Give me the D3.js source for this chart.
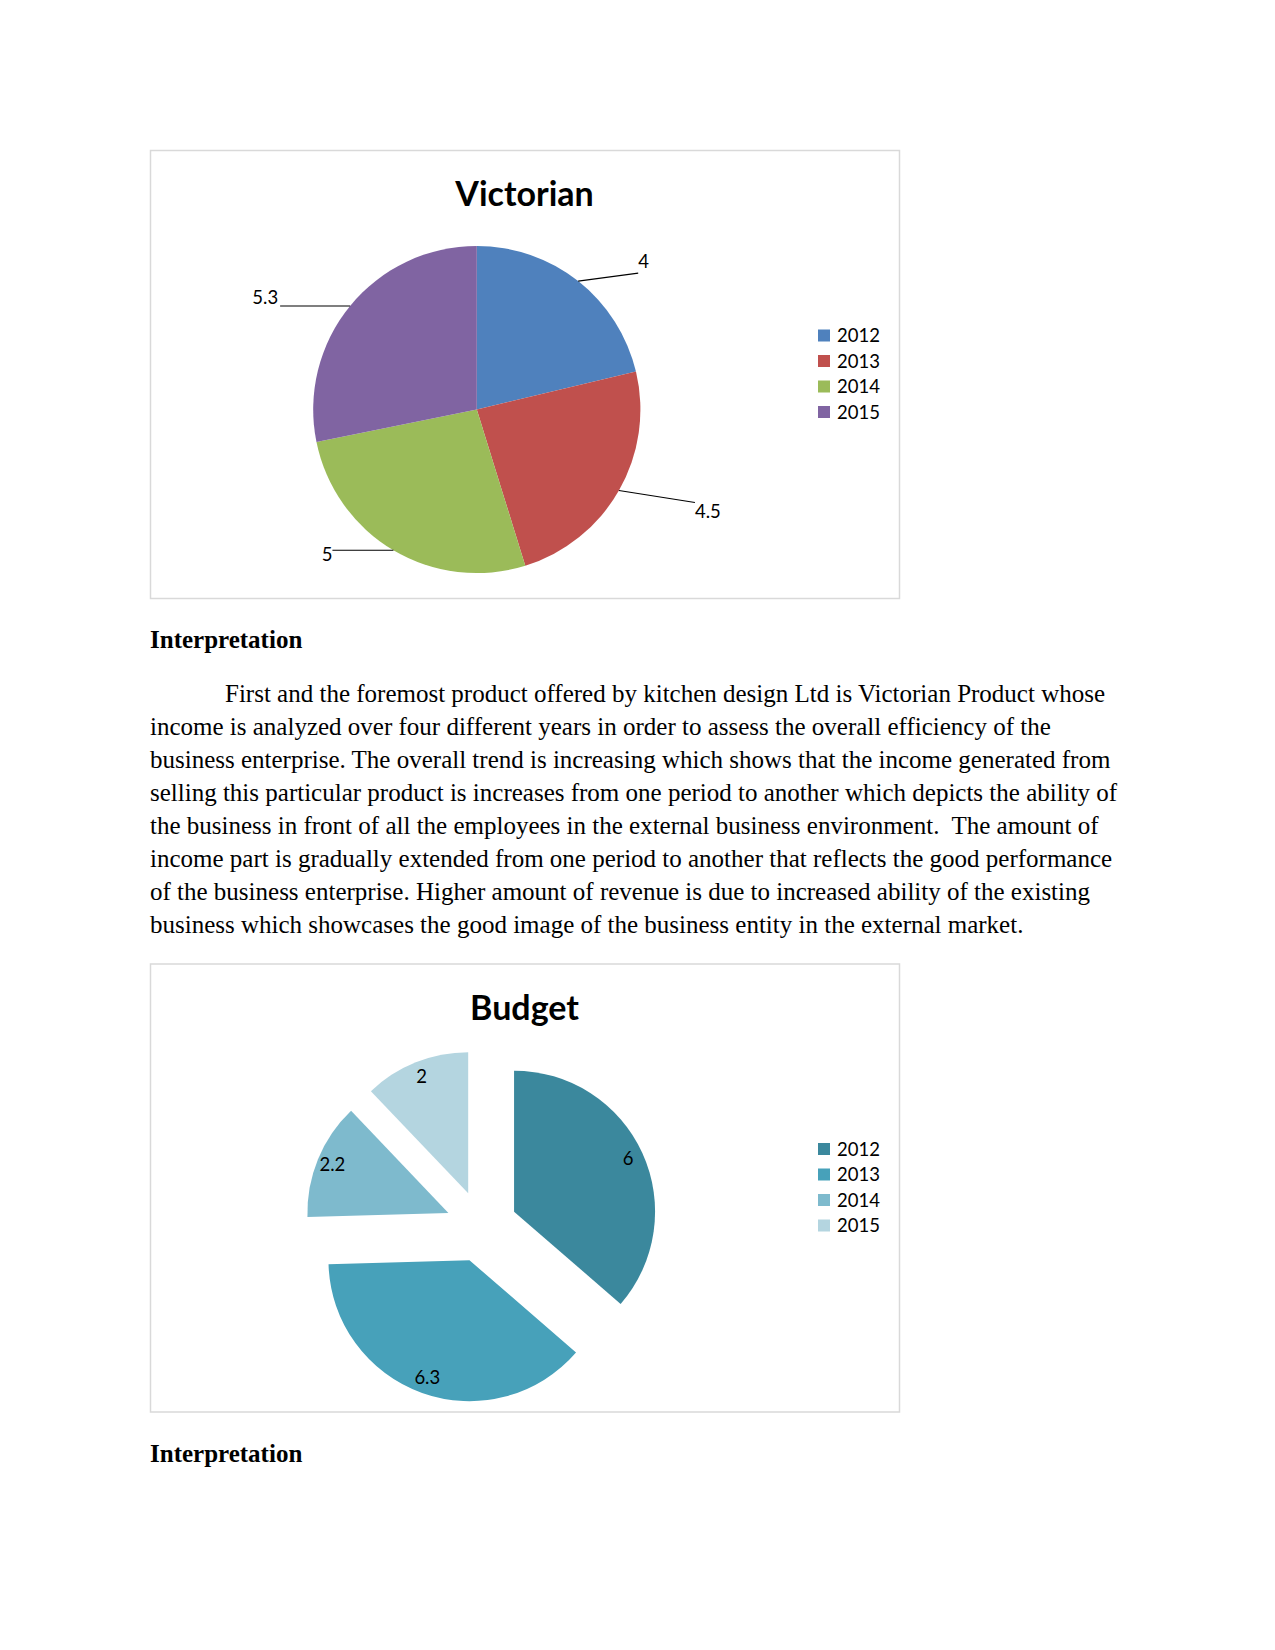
<!DOCTYPE html>
<html>
<head>
<meta charset="utf-8">
<script src="https://cdn.jsdelivr.net/npm/d3@7"></script>
<style>
  html, body { margin: 0; padding: 0; background: #fff; }
  svg text { white-space: pre; }
</style>
</head>
<body>
<svg id="page" width="1275" height="1650"></svg>
<script>
// ---------------- DATA ----------------
const years = ["2012", "2013", "2014", "2015"];
const victorianValues = [4, 4.5, 5, 5.3];
const budgetValues = [6, 6.3, 2.2, 2];
const victorianTitle = "Victorian";
const budgetTitle = "Budget";
const victorianColors = ["#4F81BD", "#C0504D", "#9BBB59", "#8064A2"];
const budgetColors = ["#3B889D", "#47A1BA", "#7EBACD", "#B4D5E0"];
const headingText = "Interpretation";
const paragraphLines = [
  "First and the foremost product offered by kitchen design Ltd is Victorian Product whose",
  "income is analyzed over four different years in order to assess the overall efficiency of the",
  "business enterprise. The overall trend is increasing which shows that the income generated from",
  "selling this particular product is increases from one period to another which depicts the ability of",
  "the business in front of all the employees in the external business environment.  The amount of",
  "income part is gradually extended from one period to another that reflects the good performance",
  "of the business enterprise. Higher amount of revenue is due to increased ability of the existing",
  "business which showcases the good image of the business entity in the external market."
];

// ---------------- LAYOUT ----------------
const svg = d3.select("#page");
svg.append("rect").attr("width", 1275).attr("height", 1650).attr("fill", "#fff");

const sansFont = "Lato, 'Open Sans', sans-serif";
const serifFont = "'Liberation Serif', 'Times New Roman', serif";

const box = { w: 749, h: 448 };
// leader line offsets (from slice edge) and label placement for Victorian
const victorianLeader = [
  { dx: 60, dy: -8, anchor: "start", tx: 0, ty: -5 },
  { dx: 76, dy: 12, anchor: "start", tx: 0, ty: 15 },
  { dx: -61, dy: 0, anchor: "end", tx: 0, ty: 11 },
  { dx: -70, dy: 0, anchor: "end", tx: -2, ty: -2 }
];

function chartFrame(x, y, title) {
  const g = svg.append("g").attr("transform", `translate(${x},${y})`);
  g.append("rect")
    .attr("x", 0.5).attr("y", 0.5)
    .attr("width", box.w).attr("height", box.h)
    .attr("fill", "#fff").attr("stroke", "#D9D9D9").attr("stroke-width", 1.5);
  g.append("text")
    .attr("x", box.w / 2).attr("y", 56)
    .attr("text-anchor", "middle")
    .attr("font-family", sansFont).attr("font-weight", 700)
    .attr("font-size", 34).attr("fill", "#000")
    .text(title);
  return g;
}

function legend(g, colors) {
  const lg = g.append("g").attr("transform", "translate(668,192)");
  years.forEach((yr, i) => {
    const y = i * 25.5;
    lg.append("rect")
      .attr("x", 0).attr("y", y - 12.5)
      .attr("width", 12).attr("height", 12)
      .attr("fill", colors[i]);
    lg.append("text")
      .attr("x", 19).attr("y", y)
      .attr("font-family", sansFont).attr("font-size", 18.5)
      .attr("fill", "#000")
      .text(yr);
  });
}

const pie = d3.pie().sort(null).value(d => d);

// ---------------- VICTORIAN ----------------
{
  const bx = 150, by = 150;
  const g = chartFrame(bx, by, victorianTitle);
  const cx = 326.8, cy = 259.5, r = 163.6;
  const pg = g.append("g").attr("transform", `translate(${cx},${cy})`);
  const arcs = pie(victorianValues);
  const arc = d3.arc().innerRadius(0).outerRadius(r);
  const edgeArc = d3.arc().innerRadius(r).outerRadius(r);
  pg.selectAll("path.slice").data(arcs).join("path")
    .attr("class", "slice")
    .attr("d", arc)
    .attr("fill", (d, i) => victorianColors[i]);
  arcs.forEach((d, i) => {
    const [ex, ey] = edgeArc.centroid(d);
    const L = victorianLeader[i];
    const lx = ex + L.dx, ly = ey + L.dy;
    pg.append("line")
      .attr("x1", ex).attr("y1", ey).attr("x2", lx).attr("y2", ly)
      .attr("stroke", "#000").attr("stroke-width", 1.1);
    pg.append("text")
      .attr("x", lx + L.tx).attr("y", ly + L.ty)
      .attr("text-anchor", L.anchor)
      .attr("font-family", sansFont).attr("font-size", 18.5)
      .attr("fill", "#000")
      .text(victorianValues[i]);
  });
  legend(g, victorianColors);
}

// ---------------- TEXT ----------------
function heading(y) {
  svg.append("text")
    .attr("x", 150).attr("y", y)
    .attr("font-family", serifFont).attr("font-weight", 700)
    .attr("font-size", 25).attr("fill", "#000")
    .text(headingText);
}
heading(647.5);
paragraphLines.forEach((line, i) => {
  svg.append("text")
    .attr("x", i === 0 ? 225 : 150)
    .attr("y", 701.7 + i * 33)
    .attr("font-family", serifFont)
    .attr("font-size", 25).attr("fill", "#000")
    .text(line);
});

// ---------------- BUDGET ----------------
{
  const bx = 150, by = 963.5;
  const g = chartFrame(bx, by, budgetTitle);
  const cx = 331.5, cy = 263, r = 141, explode = 35.8;
  const pg = g.append("g").attr("transform", `translate(${cx},${cy})`);
  const arcs = pie(budgetValues);
  const arc = d3.arc().innerRadius(0).outerRadius(r);
  const labelArc = d3.arc().innerRadius(r * 0.89).outerRadius(r * 0.89);
  const sg = pg.selectAll("g.slice").data(arcs).join("g")
    .attr("class", "slice")
    .attr("transform", d => {
      const m = (d.startAngle + d.endAngle) / 2;
      return `translate(${Math.sin(m) * explode},${-Math.cos(m) * explode})`;
    });
  sg.append("path")
    .attr("d", arc)
    .attr("fill", (d, i) => budgetColors[i]);
  sg.append("text")
    .attr("transform", d => `translate(${labelArc.centroid(d)})`)
    .attr("text-anchor", "middle")
    .attr("dy", "0.32em")
    .attr("font-family", sansFont).attr("font-size", 18.5)
    .attr("fill", "#000")
    .text(d => d.data);
  legend(g, budgetColors);
}

heading(1461.5);
</script>
</body>
</html>
